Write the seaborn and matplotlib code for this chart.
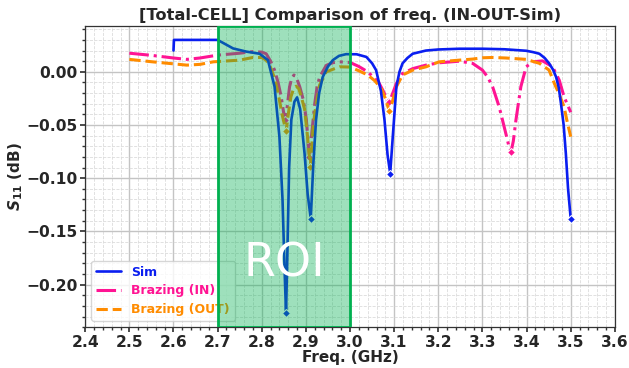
import numpy as np
import pandas as pd
import matplotlib
matplotlib.use("Agg")
import matplotlib.pyplot as plt
import seaborn as sns

# ---------------- data ----------------
sim_f = [2.600, 2.601, 2.65, 2.70, 2.735, 2.765, 2.795, 2.814, 2.829, 2.840, 2.847, 2.852,
         2.855, 2.858, 2.862, 2.867, 2.874, 2.880, 2.887, 2.897, 2.904, 2.911, 2.917, 2.923,
         2.930, 2.938, 2.950, 2.961, 2.975, 2.991, 3.015, 3.037, 3.050, 3.059, 3.070, 3.078,
         3.085, 3.091, 3.097, 3.105, 3.112, 3.119, 3.130, 3.142, 3.172, 3.200, 3.248, 3.300,
         3.350, 3.399, 3.415, 3.429, 3.441, 3.451, 3.460, 3.467, 3.473, 3.478, 3.484, 3.489,
         3.494, 3.500]
sim_s = [0.020, 0.030, 0.030, 0.030, 0.022, 0.019, 0.017, 0.011, -0.014, -0.061, -0.120, -0.190,
         -0.227, -0.170, -0.090, -0.045, -0.028, -0.024, -0.035, -0.077, -0.115, -0.138, -0.085, -0.045,
         -0.020, -0.005, 0.005, 0.011, 0.015, 0.0166, 0.0165, 0.014, 0.008, 0.0016, -0.018, -0.045,
         -0.078, -0.0956, -0.060, -0.014, 0.000, 0.008, 0.013, 0.017, 0.020, 0.021, 0.0217, 0.0217,
         0.0212, 0.0198, 0.0185, 0.017, 0.013, 0.008, 0.002, -0.005, -0.015, -0.030, -0.050, -0.077,
         -0.110, -0.138]
sim_mark = [12, 21, 37, 61]

in_f = [2.50, 2.55, 2.60, 2.63, 2.66, 2.70, 2.75, 2.78, 2.80, 2.81, 2.82, 2.829, 2.837, 2.844,
        2.852, 2.857, 2.863, 2.868, 2.873, 2.879, 2.886, 2.894, 2.901, 2.908, 2.914, 2.920,
        2.925, 2.931, 2.946, 2.960, 2.976, 3.000, 3.020, 3.040, 3.052, 3.065, 3.074, 3.083,
        3.089, 3.095, 3.105, 3.119, 3.142, 3.172, 3.202, 3.248, 3.278, 3.300, 3.312, 3.323,
        3.338, 3.353, 3.360, 3.365, 3.370, 3.376, 3.387, 3.399, 3.414, 3.436, 3.459, 3.474,
        3.485, 3.500]
in_s = [0.0175, 0.0155, 0.013, 0.0117, 0.013, 0.0157, 0.0175, 0.019, 0.0185, 0.017, 0.010, 0.0016,
        -0.010, -0.0235, -0.045, -0.035, -0.014, -0.006, -0.003, -0.006, -0.014, -0.026, -0.045,
        -0.080, -0.055, -0.030, -0.015, -0.005, 0.006, 0.0085, 0.0094, 0.0088, 0.005, 0.000,
        -0.0047, -0.010, -0.017, -0.025, -0.028, -0.022, -0.011, -0.0016, 0.003, 0.0063, 0.0085,
        0.010, 0.0079, 0.0016, -0.005, -0.014, -0.033, -0.058, -0.070, -0.075, -0.065, -0.045,
        -0.014, 0.0047, 0.0094, 0.0103, 0.0047, -0.0078, -0.0235, -0.038]
in_mark = [14, 23, 38, 53]

out_f = [2.50, 2.55, 2.59, 2.63, 2.66, 2.69, 2.75, 2.78, 2.80, 2.81, 2.82, 2.829, 2.837, 2.846,
         2.855, 2.860, 2.866, 2.872, 2.878, 2.884, 2.890, 2.897, 2.903, 2.910, 2.916, 2.920,
         2.931, 2.946, 2.976, 3.000, 3.020, 3.040, 3.055, 3.070, 3.080, 3.089, 3.096, 3.105,
         3.119, 3.142, 3.172, 3.202, 3.248, 3.278, 3.300, 3.323, 3.353, 3.399, 3.429, 3.451,
         3.463, 3.475, 3.485, 3.491, 3.500]
out_s = [0.0117, 0.0095, 0.0079, 0.0063, 0.007, 0.0094, 0.011, 0.0135, 0.0135, 0.011, 0.004, -0.006,
         -0.020, -0.040, -0.056, -0.040, -0.0235, -0.016, -0.0135, -0.016, -0.024, -0.035, -0.058,
         -0.089, -0.055, -0.039, -0.0125, 0.000, 0.0047, 0.0045, 0.001, -0.003, -0.008, -0.015,
         -0.025, -0.037, -0.028, -0.014, -0.003, 0.0016, 0.0047, 0.0094, 0.011, 0.012, 0.0132,
         0.0135, 0.013, 0.0117, 0.008, 0.0016, -0.011, -0.022, -0.033, -0.045, -0.061]
out_mark = [14, 23, 35]

x_ticks = [2.4, 2.5, 2.6, 2.7, 2.8, 2.9, 3.0, 3.1, 3.2, 3.3, 3.4, 3.5, 3.6]
y_ticks = [-0.20, -0.15, -0.10, -0.05, 0.00]
roi = [2.7, 3.0]

# ---------------- plot ----------------
sns.set_theme(style="ticks")
plt.rcParams['font.family'] = ['DejaVu Sans']

fig = plt.figure(figsize=(6.29, 3.68), dpi=100)
ax = fig.add_axes([0.1355, 0.111, 0.842, 0.819])

sns.lineplot(x=sim_f, y=sim_s, ax=ax, color='#0a1ef0', lw=1.9, ls='-', sort=False,
             estimator=None, marker='D', markersize=4, markevery=sim_mark, label='Sim', zorder=3)
sns.lineplot(x=in_f, y=in_s, ax=ax, color='deeppink', lw=2.2, ls='-.', sort=False,
             estimator=None, marker='D', markersize=4, markevery=in_mark, label='Brazing (IN)', zorder=2)
sns.lineplot(x=out_f, y=out_s, ax=ax, color='darkorange', lw=2.2, ls='--', sort=False,
             estimator=None, marker='D', markersize=4, markevery=out_mark, label='Brazing (OUT)', zorder=2)

ax.set_xlim(2.4, 3.6)
ax.set_ylim(-0.240, 0.0433)
ax.set_xticks(x_ticks)
ax.set_yticks(y_ticks)
ax.set_xticklabels([f"{v:.1f}" for v in x_ticks], fontweight='bold', fontsize=11.2)
ax.set_yticklabels([f"{v:.2f}".replace('-', '\u2212') for v in y_ticks], fontweight='bold', fontsize=11.2)
ax.minorticks_on()
ax.grid(which='major', color='#c4c4c4', lw=1.0)
ax.grid(which='minor', color='#dcdcdc', lw=0.6, ls='--')
for s in ax.spines.values():
    s.set_color('#333333')
    s.set_linewidth(0.9)
ax.tick_params(which='major', length=3.5, pad=2, color='#333333')
ax.tick_params(which='minor', length=2, color='#333333')

ax.set_title('[Total-CELL] Comparison of freq. (IN-OUT-Sim)', fontweight='bold', fontsize=11.7, pad=4)
ax.set_xlabel('Freq. (GHz)', fontweight='bold', fontsize=11)
ax.set_ylabel(r'$\mathbfit{S}_{\mathbf{11}}$ (dB)', fontweight='bold', fontsize=11)
ax.xaxis.set_label_coords(0.5, -0.076)
ax.yaxis.set_label_coords(-0.113, 0.5)

leg = ax.legend(loc='lower left', prop={'weight': 'bold', 'size': 9}, handlelength=2.0,
                labelspacing=0.45)
for h, t in zip(leg.legend_handles, leg.get_texts()):
    h.set_marker('')
    t.set_color(h.get_color())
leg.set_zorder(5)

ax.axvspan(roi[0], roi[1], facecolor=(0.0, 0.69, 0.31, 0.38), edgecolor='#00b050', lw=2.0, zorder=6)
ax.text((roi[0] + roi[1]) / 2, -0.181, 'ROI', color='white', fontsize=33, ha='center', va='center', zorder=7)

fig.savefig('out.png', dpi=100)
